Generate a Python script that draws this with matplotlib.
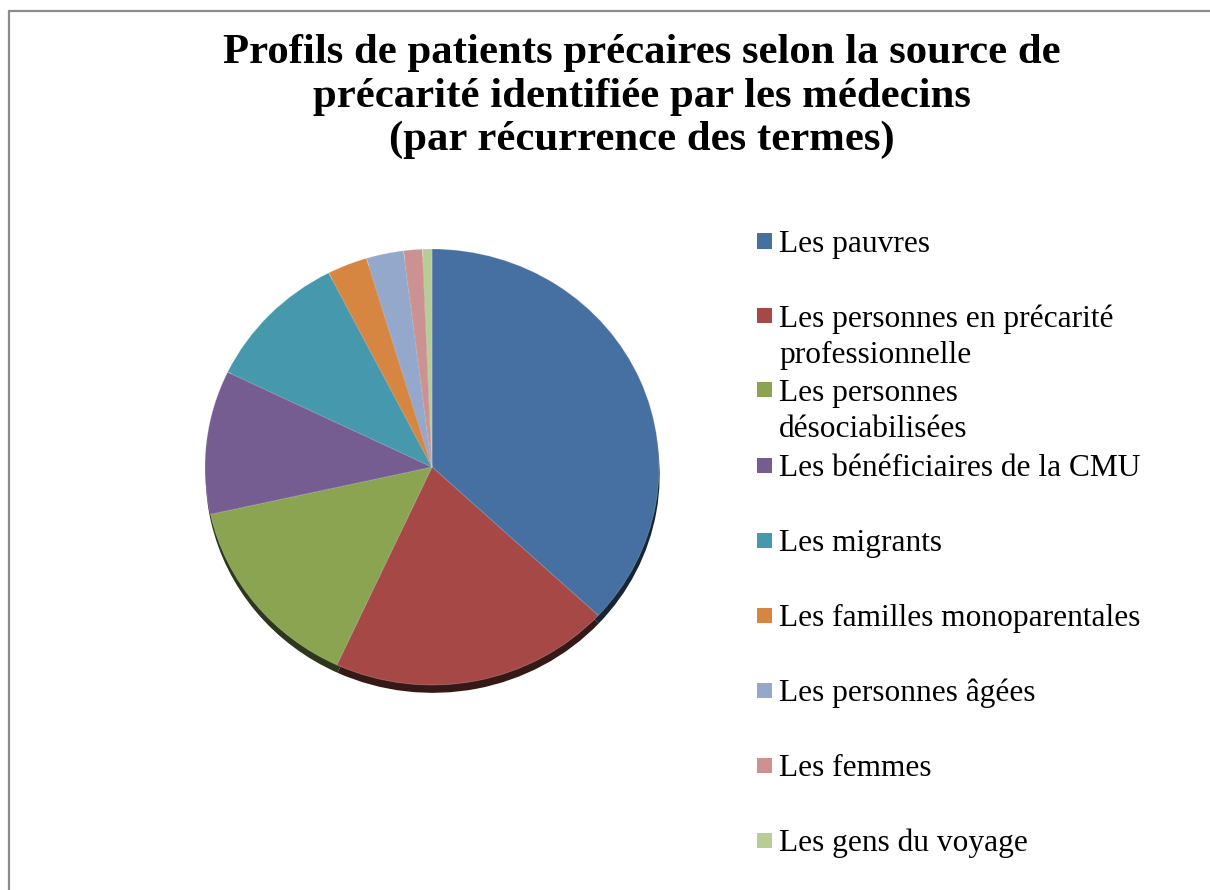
import matplotlib
matplotlib.use("Agg")
import matplotlib.pyplot as plt
from matplotlib.patches import Rectangle
import matplotlib.colors as mcolors

# ---- data ----
labels = [
    "Les pauvres",
    "Les personnes en précarité\nprofessionnelle",
    "Les personnes\ndésociabilisées",
    "Les bénéficiaires de la CMU",
    "Les migrants",
    "Les familles monoparentales",
    "Les personnes âgées",
    "Les femmes",
    "Les gens du voyage",
]
values = [55.5, 30, 22, 16, 15.5, 4.3, 4, 2, 1]
colors = ["#4670A2", "#A54846", "#8AA452", "#755D91", "#4698AC",
          "#D68640", "#94A8CC", "#CC9191", "#B8CC96"]
title_lines = [
    "Profils de patients précaires selon la source de",
    "précarité identifiée par les médecins",
    "(par récurrence des termes)",
]

W, H = 1210, 890
fig = plt.figure(figsize=(W / 100, H / 100), dpi=100)
fig.patch.set_facecolor("white")


def fx(x):
    return x / W


def fy(y):
    return 1 - y / H


# chart-area border (cropped on the right and bottom)
fig.patches.append(Rectangle((fx(9), fy(905)), fx(1220) - fx(9), fy(11) - fy(905),
                             transform=fig.transFigure, fill=False,
                             edgecolor="#8c8c8c", linewidth=1.6, clip_on=False))

# title
title_base = [63, 107, 150]
for line, yb in zip(title_lines, title_base):
    fig.text(fx(642), fy(yb), line, ha="center", va="baseline",
             fontsize=30.8, fontweight="bold", family="Liberation Serif",
             color="black")

# pie (slightly flattened ellipse like the reference)
top, bot, left, right = 249, 685, 205, 659
ry_px = (bot - top) / 2
extra = 14
ax = fig.add_axes([fx(left), fy(bot + extra), fx(right) - fx(left),
                   fy(top) - fy(bot + extra)])
dark = [tuple(c * 0.33 for c in mcolors.to_rgb(col)) for col in colors]
ax.pie(values, colors=dark, startangle=90, counterclock=False,
       radius=1, center=(0.003, -0.036),
       wedgeprops=dict(linewidth=0))
ax.pie(values, colors=colors, startangle=90, counterclock=False,
       radius=1, center=(0, 0),
       wedgeprops=dict(linewidth=0.6, edgecolor=(1, 1, 1, 0.25)))
ax.set_aspect("auto")
ax.set_xlim(-1, 1)
ax.set_ylim(-1 - extra / ry_px, 1)
ax.axis("off")

# legend (manual, Excel-style wrapped entries)
leg_y = [241, 315.5, 390, 465, 540, 615, 690, 765, 840]
for lab, col, yc in zip(labels, colors, leg_y):
    fig.patches.append(Rectangle((fx(757), fy(yc + 7.5)), fx(15), 15 / H,
                                 transform=fig.transFigure, facecolor=col,
                                 edgecolor="none"))
    for i, ln in enumerate(lab.split("\n")):
        fig.text(fx(779), fy(yc + 11 + 36 * i), ln, ha="left", va="baseline",
                 fontsize=22.6, family="Liberation Serif", color="black")

fig.savefig("out.png", dpi=100)
